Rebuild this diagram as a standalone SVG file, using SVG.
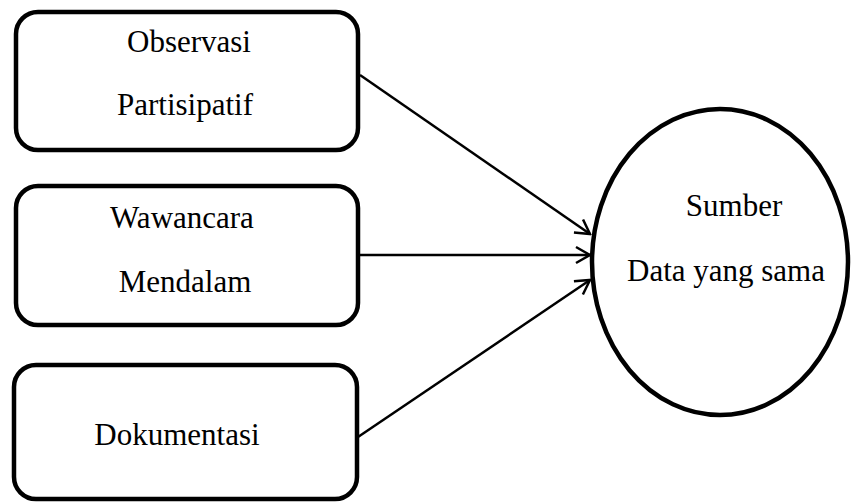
<svg xmlns="http://www.w3.org/2000/svg" width="851" height="502" viewBox="0 0 851 502">
<style>
.box{fill:#fff;stroke:#000;stroke-width:4.5}
.t{font-family:"Liberation Serif","Times New Roman",serif;font-size:31px;fill:#000;text-anchor:middle}
.c{stroke:#000;stroke-width:2.5;fill:none;marker-end:url(#ah)}
</style>
<defs>
<marker id="ah" viewBox="0 0 20 20" refX="18" refY="10" markerWidth="20" markerHeight="20" markerUnits="userSpaceOnUse" orient="auto">
<path d="M4,2 L18,10 L4,18" fill="none" stroke="#000" stroke-width="2.5"/>
</marker>
</defs>
<g id="connectors">
<line class="c" x1="360" y1="75" x2="590" y2="234"/>
<line class="c" x1="360" y1="255" x2="590" y2="255"/>
<line class="c" x1="358" y1="437" x2="590" y2="280"/>
</g>
<g id="observasi">
<rect class="box" x="16" y="12" width="342" height="138" rx="22"/>
<text class="t" x="189" y="52">Observasi</text>
<text class="t" x="185" y="115">Partisipatif</text>
</g>
<g id="wawancara">
<rect class="box" x="16" y="186" width="342" height="139" rx="22"/>
<text class="t" x="182" y="228">Wawancara</text>
<text class="t" x="185" y="292">Mendalam</text>
</g>
<g id="dokumentasi">
<rect class="box" x="14" y="365" width="343" height="134" rx="22"/>
<text class="t" x="177" y="445">Dokumentasi</text>
</g>
<g id="sumber">
<ellipse class="box" cx="720" cy="262" rx="128" ry="153"/>
<text class="t" x="734" y="216">Sumber</text>
<text class="t" x="726" y="281">Data yang sama</text>
</g>
</svg>
